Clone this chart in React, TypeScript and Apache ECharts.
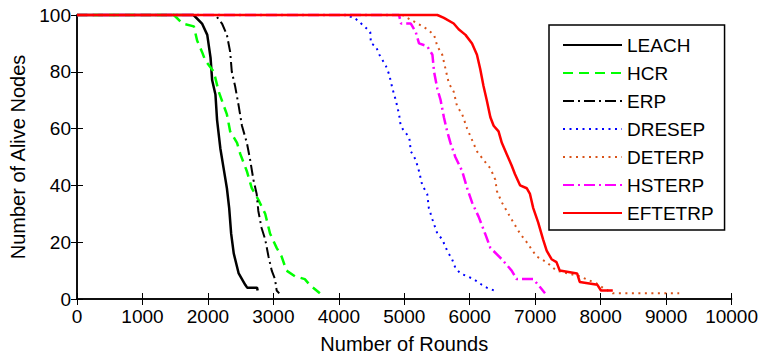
import React, { useEffect, useRef } from "react";
import * as echarts from "echarts";

const seriesNames = ["LEACH", "HCR", "ERP", "DRESEP", "DETERP", "HSTERP", "EFTETRP"];

const xTicks = [0, 1000, 2000, 3000, 4000, 5000, 6000, 7000, 8000, 9000, 10000];
const yTicks = [0, 20, 40, 60, 80, 100];

const leachData: [number, number][] = [
  [0, 100], [1780, 100], [1910, 97], [1990, 93], [2040, 85], [2065, 77], [2115, 72], [2140, 63],
  [2190, 53], [2240, 46], [2290, 39], [2325, 32], [2355, 23], [2395, 16], [2470, 9], [2570, 5],
  [2600, 4], [2750, 4], [2760, 3],
];
const hcrData: [number, number][] = [
  [0, 100], [1480, 100], [1610, 97], [1785, 96], [1835, 91], [1910, 87], [1960, 84], [2090, 80],
  [2165, 73], [2290, 65], [2340, 59], [2445, 55], [2495, 51], [2595, 45], [2670, 39], [2770, 35],
  [2875, 30], [2950, 23], [3050, 18], [3125, 15], [3200, 10], [3330, 8], [3480, 7], [3555, 5], [3710, 2],
];
const erpData: [number, number][] = [
  [0, 100], [2115, 100], [2215, 97], [2290, 93], [2340, 87], [2365, 80], [2415, 75], [2470, 68],
  [2520, 61], [2595, 55], [2645, 49], [2695, 42], [2745, 37], [2770, 31], [2820, 25], [2875, 21],
  [2925, 15], [2975, 10], [3025, 7], [3050, 3], [3090, 2],
];
const dresepData: [number, number][] = [
  [0, 100], [4090, 100], [4240, 99], [4390, 96], [4480, 94], [4490, 90], [4565, 89], [4620, 86],
  [4720, 82], [4770, 79], [4820, 74], [4870, 70], [4920, 65], [4945, 61], [5000, 59], [5075, 57],
  [5100, 52], [5175, 49], [5225, 45], [5275, 40], [5350, 37], [5375, 32], [5430, 28], [5505, 23],
  [5580, 21], [5655, 17], [5730, 14], [5780, 11], [5855, 9], [5960, 8], [6060, 7], [6185, 5],
  [6260, 4], [6370, 3],
];
const deterpData: [number, number][] = [
  [0, 100], [4970, 100], [5200, 97], [5350, 95], [5455, 93], [5505, 89], [5580, 86], [5630, 81],
  [5680, 76], [5755, 73], [5805, 68], [5885, 65], [5960, 60], [6035, 56], [6110, 52], [6210, 49],
  [6315, 46], [6390, 42], [6415, 38], [6490, 34], [6590, 30], [6665, 27], [6770, 23], [6870, 20],
  [7020, 15], [7170, 13], [7325, 10], [7680, 8], [7780, 7], [7980, 5], [8030, 4], [8185, 2], [9200, 2],
];
const hsterpData: [number, number][] = [
  [0, 100], [4920, 100], [4950, 97], [5100, 97], [5175, 94], [5225, 90], [5350, 89], [5430, 86],
  [5455, 80], [5505, 74], [5555, 70], [5605, 64], [5655, 59], [5705, 55], [5780, 50], [5885, 45],
  [5960, 39], [6035, 34], [6135, 29], [6235, 23], [6315, 18], [6490, 14], [6640, 10], [6715, 7],
  [6970, 7], [7045, 5], [7150, 2],
];
const eftetrpData: [number, number][] = [
  [0, 100], [5505, 100], [5605, 99], [5755, 97], [5830, 95], [5935, 93], [6035, 90], [6110, 86],
  [6160, 81], [6210, 75], [6260, 70], [6315, 64], [6365, 61], [6440, 59], [6490, 55], [6565, 51],
  [6640, 47], [6690, 44], [6770, 40], [6870, 39], [6920, 37], [6970, 32], [7045, 27], [7120, 21],
  [7175, 17], [7250, 14], [7325, 13], [7375, 10], [7640, 9], [7680, 6], [7950, 5], [8005, 3], [8185, 3],
];

const allData = [leachData, hcrData, erpData, dresepData, deterpData, hsterpData, eftetrpData];
const colors = ["#000000", "#00ff00", "#000000", "#0000ff", "#d95319", "#ff00ff", "#ff0000"];
const widths = [2.5, 2.5, 2, 2, 2, 2.5, 2.5];
const dashes: (number[] | "solid")[] = [
  "solid",
  [10, 6],
  [11, 4, 2, 4],
  [2, 4.5],
  [2, 4.5],
  [11, 4, 2, 4],
  "solid",
];

const FONT = "Liberation Sans, Arial, sans-serif";

export default function App() {
  const ref = useRef<HTMLDivElement>(null);
  useEffect(() => {
    if (!ref.current) return;
    const chart = echarts.init(ref.current, undefined, { renderer: "svg" });
    const axisCommon = {
      axisLine: { show: true, lineStyle: { color: "#000", width: 1.5 } },
      axisTick: { show: true, inside: true, length: 6, lineStyle: { color: "#000", width: 1 } },
      splitLine: { show: false },
    };
    const plain = (v: number) => String(v);
    chart.setOption({
      animation: false,
      backgroundColor: "#fff",
      grid: { left: 74, right: 28, top: 15, bottom: 56.5, containLabel: false },
      xAxis: [
        {
          type: "value",
          min: xTicks[0],
          max: xTicks[xTicks.length - 1],
          interval: 1000,
          position: "bottom",
          name: "Number of Rounds",
          nameLocation: "middle",
          nameGap: 35,
          nameTextStyle: { fontSize: 20, fontFamily: FONT, color: "#000" },
          axisLabel: { fontSize: 19, fontFamily: FONT, color: "#000", margin: 8, formatter: plain },
          ...axisCommon,
        },
        {
          type: "value",
          min: xTicks[0],
          max: xTicks[xTicks.length - 1],
          interval: 1000,
          position: "top",
          axisLabel: { show: false },
          ...axisCommon,
        },
      ],
      yAxis: [
        {
          type: "value",
          min: yTicks[0],
          max: yTicks[yTicks.length - 1],
          interval: 20,
          position: "left",
          name: "Number of Alive Nodes",
          nameLocation: "middle",
          nameGap: 49,
          nameTextStyle: { fontSize: 20, fontFamily: FONT, color: "#000" },
          axisLabel: { fontSize: 19, fontFamily: FONT, color: "#000", margin: 6, formatter: plain },
          ...axisCommon,
        },
        {
          type: "value",
          min: yTicks[0],
          max: yTicks[yTicks.length - 1],
          interval: 20,
          position: "right",
          axisLabel: { show: false },
          ...axisCommon,
        },
      ],
      legend: {
        orient: "vertical",
        left: 549,
        top: 25,
        padding: [10, 11, 7, 13],
        itemWidth: 59,
        itemHeight: 20,
        itemGap: 8,
        borderColor: "#000",
        borderWidth: 1.5,
        backgroundColor: "#fff",
        itemStyle: { opacity: 0 },
        textStyle: { fontSize: 19, fontFamily: FONT, color: "#000", lineHeight: 20 },
        data: seriesNames,
      },
      series: seriesNames.map((name, i) => ({
        name,
        type: "line",
        data: allData[i],
        xAxisIndex: 0,
        yAxisIndex: 0,
        symbol: "none",
        showSymbol: false,
        clip: false,
        lineStyle: { color: colors[i], width: widths[i], type: dashes[i] },
        itemStyle: { color: colors[i] },
      })),
    });
    return () => chart.dispose();
  }, []);
  return (
    <div
      ref={ref}
      style={{ position: "fixed", left: 0, top: 0, width: 761, height: 359 }}
    />
  );
}
